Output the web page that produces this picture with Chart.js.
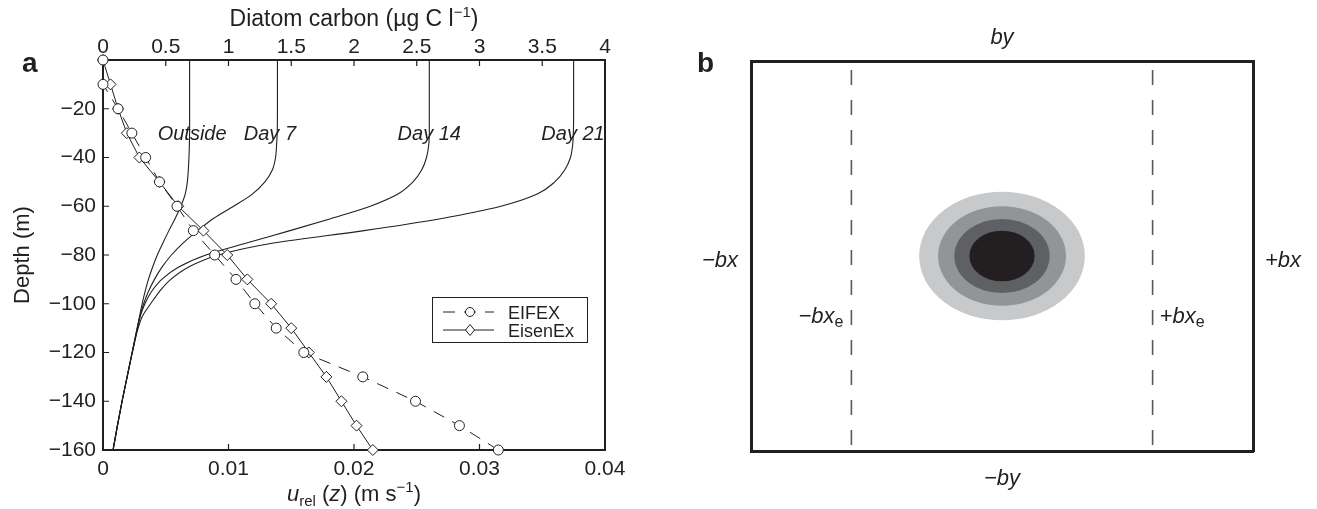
<!DOCTYPE html>
<html>
<head>
<meta charset="utf-8">
<script src="https://cdn.jsdelivr.net/npm/chart.js@4.4.0/dist/chart.umd.min.js"></script>
<style>
  body { margin: 0; background: #fff; width: 1317px; height: 509px; overflow: hidden; position: relative; }
  #wrapA { position: absolute; left: 0; top: 0; width: 640px; height: 509px; }
  #wrapB { position: absolute; left: 660px; top: 0; width: 657px; height: 509px; }
</style>
</head>
<body>
<div id="wrapA"><canvas id="chartA"></canvas></div>
<div id="wrapB"><canvas id="chartB"></canvas></div>
<script>
const FONT = '"Liberation Sans", Arial, Helvetica, sans-serif';
const INK = "#231f20";

// panel a - velocity profiles (m s-1) at each depth (m)
const depths = [0, -10, -20, -30, -40, -50, -60, -70, -80, -90, -100, -110, -120, -130, -140, -150, -160];
const eifexU = [0.0000, 0.0000, 0.0012, 0.0023, 0.0034, 0.0045, 0.0059, 0.0072, 0.0089, 0.0106, 0.0121, 0.0138, 0.0160, 0.0207, 0.0249, 0.0284, 0.0315];
const eisenexU = [0.0000, 0.0006, 0.0012, 0.0019, 0.0029, 0.0045, 0.0060, 0.0080, 0.0099, 0.0115, 0.0134, 0.0150, 0.0164, 0.0178, 0.0190, 0.0202, 0.0215];

// panel a - diatom carbon profiles (ug C l-1)
const carbonDepths = [0, -10, -20, -30, -35, -40, -45, -50, -55, -60, -65, -70, -75, -80, -85, -90, -95, -100, -105, -110, -120, -130, -140, -150, -160];
const outsideC = [0.69, 0.69, 0.69, 0.69, 0.688, 0.685, 0.68, 0.672, 0.655, 0.62, 0.575, 0.525, 0.478, 0.433, 0.395, 0.362, 0.335, 0.312, 0.292, 0.272, 0.232, 0.192, 0.152, 0.115, 0.08];
const day7C = [1.39, 1.39, 1.39, 1.388, 1.383, 1.375, 1.35, 1.29, 1.19, 1.04, 0.88, 0.755, 0.64, 0.545, 0.47, 0.41, 0.362, 0.324, 0.295, 0.273, 0.232, 0.192, 0.152, 0.115, 0.08];
const day14C = [2.6, 2.6, 2.6, 2.6, 2.595, 2.578, 2.54, 2.47, 2.35, 2.13, 1.82, 1.49, 1.15, 0.82, 0.6, 0.468, 0.387, 0.334, 0.298, 0.275, 0.233, 0.192, 0.152, 0.115, 0.08];
const day21C = [3.75, 3.75, 3.75, 3.748, 3.742, 3.725, 3.68, 3.6, 3.46, 3.17, 2.7, 2.08, 1.37, 0.92, 0.68, 0.54, 0.45, 0.38, 0.315, 0.28, 0.234, 0.193, 0.152, 0.115, 0.08];
const curveNames = ["Outside", "Day 7", "Day 14", "Day 21"];
const curveLabelAt = [0.71, 1.33, 2.6, 3.745];
const curveLabelDepth = -30;

const uTicksStep = 0.01;
const carbonTicksStep = 0.5;
const depthTicksStep = 20;

// panel b - domain edges and patch contours (in units of bx, by)
const edgeX = [-0.6, 0.6];
const patchCentre = [0, 0];
const patchRadius = [0.33, 0.255, 0.19, 0.13];
const patchColors = ["#c8c9cb", "#939497", "#5f6063", "#231f20"];

Chart.defaults.font.family = FONT;
Chart.defaults.color = INK;

function pts(xs, ys) {
  return xs.map((v, i) => ({ x: v, y: ys[i] }));
}

function minusFmt(v) {
  return v < 0 ? "\u2212" + Math.abs(v) : String(v);
}

function drawRich(ctx, parts, x, y, align) {
  let w = 0;
  parts.forEach(p => {
    ctx.font = p.font;
    p.w = ctx.measureText(p.text).width;
    w += p.w;
  });
  let cx = x;
  if (align == "center") cx = x - w / 2;
  if (align == "right") cx = x - w;
  ctx.textAlign = "left";
  ctx.textBaseline = "alphabetic";
  parts.forEach(p => {
    ctx.font = p.font;
    ctx.fillText(p.text, cx, y + (p.dy || 0));
    cx += p.w;
  });
}

const fixSize = (w, h) => scale => {
  if (w !== null) scale.width = w;
  if (h !== null) scale.height = h;
  scale.paddingLeft = 0;
  scale.paddingRight = 0;
  scale.paddingTop = 0;
  scale.paddingBottom = 0;
};

let panelAExtras = {
  id: "panelAExtras",
  afterDraw(chart) {
    const { ctx, chartArea, scales } = chart;
    const ca = chartArea;
    ctx.save();
    ctx.fillStyle = INK;
    ctx.strokeStyle = INK;
    ctx.lineWidth = 1.2;

    // inward tick marks
    ctx.beginPath();
    scales.x.ticks.forEach(t => {
      let px = scales.x.getPixelForValue(t.value);
      if (px > ca.left + 1 && px < ca.right - 1) {
        ctx.moveTo(px, ca.bottom);
        ctx.lineTo(px, ca.bottom - 6);
      }
    });
    scales.x2.ticks.forEach(t => {
      let px = scales.x2.getPixelForValue(t.value);
      if (px > ca.left + 1 && px < ca.right - 1) {
        ctx.moveTo(px, ca.top);
        ctx.lineTo(px, ca.top + 6);
      }
    });
    scales.y.ticks.forEach(t => {
      let py = scales.y.getPixelForValue(t.value);
      if (py > ca.top + 1 && py < ca.bottom - 1) {
        ctx.moveTo(ca.left, py);
        ctx.lineTo(ca.left + 6, py);
      }
    });
    ctx.stroke();

    // axis titles with sub/superscripts
    const mid = (ca.left + ca.right) / 2;
    drawRich(ctx, [
      { text: "Diatom carbon (\u00b5g C l", font: "23px " + FONT },
      { text: "\u22121", font: "15px " + FONT, dy: -9 },
      { text: ")", font: "23px " + FONT }
    ], mid, 26, "center");
    drawRich(ctx, [
      { text: "u", font: "italic 22px " + FONT },
      { text: "rel", font: "15px " + FONT, dy: 5 },
      { text: " (", font: "22px " + FONT },
      { text: "z", font: "italic 22px " + FONT },
      { text: ") (m s", font: "22px " + FONT },
      { text: "\u22121", font: "15px " + FONT, dy: -9 },
      { text: ")", font: "22px " + FONT }
    ], mid, 501, "center");

    // panel letter
    ctx.font = "bold 28px " + FONT;
    ctx.textAlign = "left";
    ctx.textBaseline = "alphabetic";
    ctx.fillText("a", 22, 72);

    // curve names
    ctx.font = "italic 20px " + FONT;
    ctx.textAlign = "center";
    curveNames.forEach((n, i) => {
      ctx.fillText(n, scales.x2.getPixelForValue(curveLabelAt[i]), scales.y.getPixelForValue(curveLabelDepth) + 7);
    });

    // legend
    const lx = ca.left + 329;
    const ly = ca.top + 237;
    ctx.fillStyle = "#fff";
    ctx.fillRect(lx, ly, 155, 45);
    ctx.lineWidth = 1;
    ctx.strokeRect(lx + 0.5, ly + 0.5, 155, 45);
    ctx.fillStyle = INK;
    const items = [chart.data.datasets[0], chart.data.datasets[1]];
    items.forEach((ds, i) => {
      const yy = ly + 15 + i * 18;
      ctx.beginPath();
      ctx.setLineDash(ds.borderDash || []);
      ctx.lineWidth = 1;
      ctx.moveTo(lx + 11, yy);
      ctx.lineTo(lx + 62, yy);
      ctx.stroke();
      ctx.setLineDash([]);
      ctx.fillStyle = "#fff";
      ctx.beginPath();
      if (ds.pointStyle == "rectRot") {
        ctx.moveTo(lx + 38, yy - 5.5);
        ctx.lineTo(lx + 42.5, yy);
        ctx.lineTo(lx + 38, yy + 5.5);
        ctx.lineTo(lx + 33.5, yy);
        ctx.closePath();
      } else {
        ctx.arc(lx + 38, yy, 4.5, 0, Math.PI * 2);
      }
      ctx.fill();
      ctx.stroke();
      ctx.fillStyle = INK;
      ctx.font = "18px " + FONT;
      ctx.textAlign = "left";
      ctx.fillText(ds.label, lx + 76, yy + 6.5);
    });
    ctx.restore();
  }
};

const curveStyle = {
  xAxisID: "x2",
  indexAxis: "y",
  cubicInterpolationMode: "monotone",
  borderColor: INK,
  borderWidth: 1.1,
  pointRadius: 0,
  fill: false
};

let chartA = new Chart(document.getElementById("chartA"), {
  type: "line",
  data: {
    datasets: [
      {
        label: "EIFEX",
        data: pts(eifexU, depths),
        xAxisID: "x",
        borderColor: INK,
        borderWidth: 1,
        borderDash: [12, 9],
        pointStyle: "circle",
        pointRadius: 5,
        pointBorderWidth: 1,
        pointBackgroundColor: "#fff",
        pointBorderColor: INK,
        clip: false
      },
      {
        label: "EisenEx",
        data: pts(eisenexU, depths),
        xAxisID: "x",
        borderColor: INK,
        borderWidth: 1,
        pointStyle: "rectRot",
        pointRadius: 5.5,
        pointBorderWidth: 1,
        pointBackgroundColor: "#fff",
        pointBorderColor: INK,
        clip: false
      },
      Object.assign({ label: curveNames[0], data: pts(outsideC, carbonDepths) }, curveStyle),
      Object.assign({ label: curveNames[1], data: pts(day7C, carbonDepths) }, curveStyle),
      Object.assign({ label: curveNames[2], data: pts(day14C, carbonDepths) }, curveStyle),
      Object.assign({ label: curveNames[3], data: pts(day21C, carbonDepths) }, curveStyle)
    ]
  },
  options: {
    responsive: true,
    maintainAspectRatio: false,
    animation: false,
    devicePixelRatio: 1,
    events: [],
    layout: { padding: { left: 0, right: 35, top: 0, bottom: 0 } },
    plugins: { legend: { display: false }, tooltip: { enabled: false } },
    scales: {
      x: {
        type: "linear",
        position: "bottom",
        min: 0,
        max: 0.04,
        ticks: {
          stepSize: uTicksStep,
          autoSkip: false,
          maxRotation: 0,
          padding: 7,
          font: { size: 21 },
          callback: v => String(+v.toFixed(3))
        },
        grid: { display: false, drawTicks: false },
        border: { display: true, color: INK, width: 2 },
        afterFit: fixSize(null, 59)
      },
      x2: {
        type: "linear",
        position: "top",
        min: 0,
        max: 4,
        ticks: {
          stepSize: carbonTicksStep,
          autoSkip: false,
          maxRotation: 0,
          padding: 0,
          font: { size: 21 },
          callback: v => String(+v.toFixed(1))
        },
        grid: { display: false, drawTicks: false },
        border: { display: true, color: INK, width: 2 },
        afterFit: fixSize(null, 60)
      },
      y: {
        type: "linear",
        position: "left",
        min: -160,
        max: 0,
        ticks: {
          stepSize: depthTicksStep,
          autoSkip: false,
          padding: 7,
          font: { size: 21 },
          callback: v => (v === 0 ? "" : minusFmt(v))
        },
        title: { display: true, text: "Depth (m)", font: { size: 22 }, padding: { top: 10, bottom: 0 } },
        grid: { display: false, drawTicks: false },
        border: { display: true, color: INK, width: 2 },
        afterFit: fixSize(103, null)
      },
      y2: {
        type: "linear",
        position: "right",
        min: -160,
        max: 0,
        ticks: { display: false },
        grid: { display: false, drawTicks: false },
        border: { display: true, color: INK, width: 2 },
        afterFit: fixSize(0, null)
      }
    }
  },
  plugins: [panelAExtras]
});

// panel b
let panelBExtras = {
  id: "panelBExtras",
  beforeDatasetsDraw(chart) {
    const { ctx, scales } = chart;
    const cx = scales.x.getPixelForValue(patchCentre[0]);
    const cy = scales.y.getPixelForValue(patchCentre[1]);
    ctx.save();
    patchRadius.forEach((r, i) => {
      const rx = scales.x.getPixelForValue(patchCentre[0] + r) - cx;
      const ry = cy - scales.y.getPixelForValue(patchCentre[1] + r);
      ctx.fillStyle = patchColors[i];
      ctx.beginPath();
      ctx.ellipse(cx, cy, rx, ry, 0, 0, Math.PI * 2);
      ctx.fill();
    });
    ctx.restore();
  },
  afterDraw(chart) {
    const { ctx, chartArea, scales } = chart;
    const ca = chartArea;
    const big = "italic 22px " + FONT;
    const sub = "16px " + FONT;
    const midX = scales.x.getPixelForValue(0);
    const midY = scales.y.getPixelForValue(0);
    ctx.save();
    ctx.fillStyle = INK;
    ctx.font = "bold 28px " + FONT;
    ctx.textAlign = "left";
    ctx.textBaseline = "alphabetic";
    ctx.fillText("b", 37, 72);

    drawRich(ctx, [{ text: "by", font: big }], midX, ca.top - 17, "center");
    drawRich(ctx, [{ text: "\u2212by", font: big }], midX, ca.bottom + 34, "center");
    drawRich(ctx, [{ text: "\u2212bx", font: big }], ca.left - 13, midY + 11, "right");
    drawRich(ctx, [{ text: "+bx", font: big }], ca.right + 12, midY + 11, "left");
    const ey = scales.y.getPixelForValue(-0.33) + 3;
    drawRich(ctx, [{ text: "\u2212bx", font: big }, { text: "e", font: sub, dy: 4 }],
      scales.x.getPixelForValue(edgeX[0]) - 8, ey, "right");
    drawRich(ctx, [{ text: "+bx", font: big }, { text: "e", font: sub, dy: 4 }],
      scales.x.getPixelForValue(edgeX[1]) + 7, ey, "left");
    ctx.restore();
  }
};

const edgeStyle = {
  borderColor: "#58595b",
  borderWidth: 1.6,
  borderDash: [15, 15],
  borderDashOffset: 21,
  pointRadius: 0,
  fill: false
};

const frameScale = (pos, w, h) => ({
  type: "linear",
  position: pos,
  min: -1,
  max: 1,
  ticks: { display: false },
  grid: { display: false, drawTicks: false },
  border: { display: true, color: INK, width: 3 },
  afterFit: fixSize(w, h)
});

let chartB = new Chart(document.getElementById("chartB"), {
  type: "line",
  data: {
    datasets: [
      Object.assign({ label: "\u2212bxe", data: [{ x: edgeX[0], y: 1 }, { x: edgeX[0], y: -1 }] }, edgeStyle),
      Object.assign({ label: "+bxe", data: [{ x: edgeX[1], y: 1 }, { x: edgeX[1], y: -1 }] }, edgeStyle)
    ]
  },
  options: {
    responsive: true,
    maintainAspectRatio: false,
    animation: false,
    devicePixelRatio: 1,
    events: [],
    layout: { padding: { left: 91, right: 64, top: 61, bottom: 58 } },
    plugins: { legend: { display: false }, tooltip: { enabled: false } },
    scales: {
      x: frameScale("bottom", null, 0),
      x2: frameScale("top", null, 0),
      y: frameScale("left", 0, null),
      y2: frameScale("right", 0, null)
    }
  },
  plugins: [panelBExtras]
});
</script>
</body>
</html>
